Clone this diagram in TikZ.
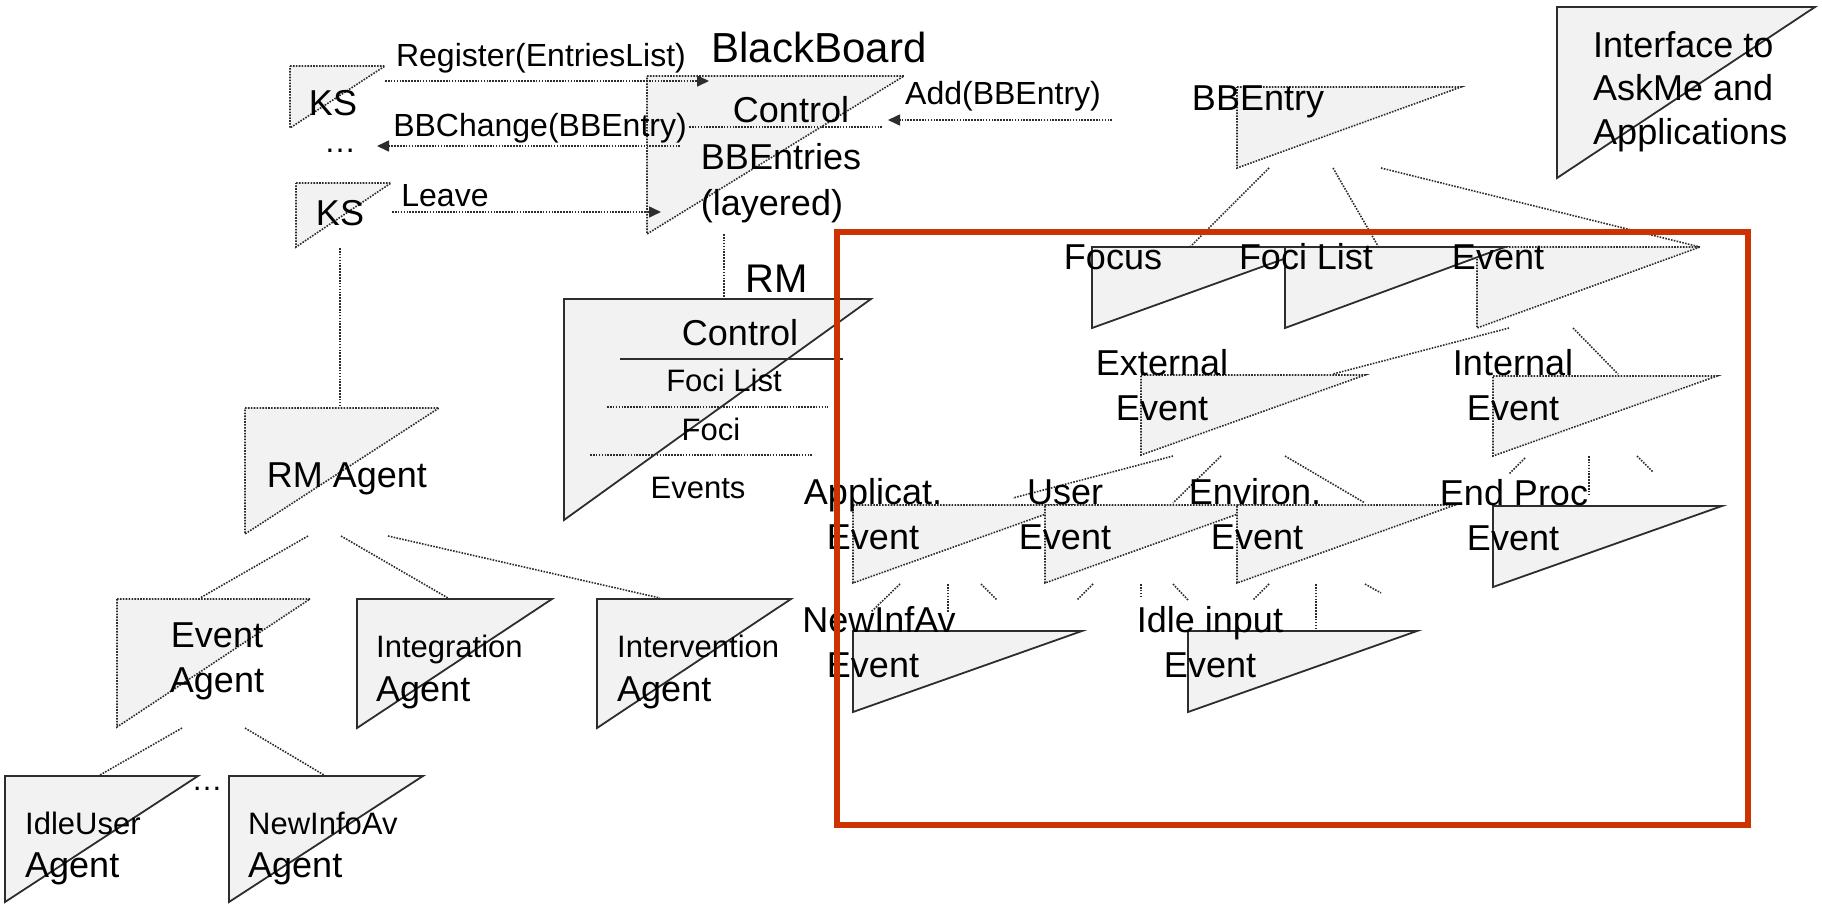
\documentclass[tikz,border=0pt]{standalone}
\usepackage{fontspec}
\setmainfont{Liberation Sans}
\usetikzlibrary{arrows.meta}
\definecolor{ln}{RGB}{45,45,45}
\definecolor{fl}{RGB}{242,242,242}
\definecolor{rd}{RGB}{204,51,0}
\newcommand\trishape[5]{\path[#1] (#2,#3) -- ++(#4,0) -- (#2,#3+#5) -- cycle;}
\begin{document}
\begin{tikzpicture}[x=1pt,y=-1pt,
  soltri/.style={draw=ln,line width=1.8pt,fill=fl},
  dottri/.style={draw=ln,line width=1.6pt,fill=fl,dash pattern=on 1.6pt off 1.3pt},
  dotln/.style={draw=ln,line width=1.6pt,dash pattern=on 1.6pt off 1.3pt},
  solln/.style={draw=ln,line width=1.8pt},
  arr/.style={dotln,-{Triangle[length=12pt,width=11pt]}},
  redbox/.style={draw=rd,line width=5.3pt},
  t42/.style={inner sep=0pt,font=\fontsize{42}{46}\selectfont,text height=30pt,text depth=0pt},
  t40/.style={inner sep=0pt,font=\fontsize{40}{44}\selectfont,text height=28.6pt,text depth=0pt},
  t36/.style={inner sep=0pt,font=\fontsize{36}{40}\selectfont,text height=25.8pt,text depth=0pt},
  t32/.style={inner sep=0pt,font=\fontsize{32}{36}\selectfont,text height=22.9pt,text depth=0pt},
  t31/.style={inner sep=0pt,font=\fontsize{31}{35}\selectfont,text height=22.2pt,text depth=0pt}
]
\useasboundingbox (0,0) rectangle (1822,903);

% ---------- shapes ----------
\trishape{dottri}{290}{66}{95}{62}
\trishape{dottri}{296}{183}{95}{64}
\trishape{dottri}{647}{76}{257}{158}
\trishape{soltri}{564}{299}{307}{221}
\trishape{dottri}{245}{408}{194}{126}
\trishape{dottri}{117}{599}{193}{128}
\trishape{soltri}{357}{599}{195}{129}
\trishape{soltri}{597}{599}{194}{129}
\trishape{soltri}{5}{776}{193}{126}
\trishape{soltri}{229}{776}{194}{126}
\trishape{dottri}{1237}{87}{224}{81}
\trishape{soltri}{1557}{7}{258}{171}
\trishape{soltri}{1092}{247}{225}{81}
\trishape{dottri}{1477}{247}{223}{81}
\trishape{soltri}{1285}{247}{220}{81}
\trishape{dottri}{1141}{375}{224}{80}
\trishape{dottri}{1493}{376}{224}{80}
\trishape{dottri}{853}{505}{218}{78}
\trishape{dottri}{1045}{505}{218}{78}
\trishape{dottri}{1237}{505}{218}{78}
\trishape{soltri}{1493}{506}{229}{81}
\trishape{soltri}{853}{631}{229}{81}
\trishape{soltri}{1188}{631}{229}{81}

% ---------- inner separators ----------
\draw[dotln] (689,127) -- (883,127);
\draw[solln] (620,359) -- (843,359);
\draw[dotln] (607,407) -- (828,407);
\draw[dotln] (590,455) -- (813,455);

% ---------- connector end points ----------
\coordinate (ks1r) at (385,81);   \coordinate (bbreg) at (709,81);
\coordinate (bbchg) at (680,146); \coordinate (dotsin) at (377,146);
\coordinate (ks2r) at (392,212);  \coordinate (bbleave) at (661,212);
\coordinate (addsrc) at (1112,120); \coordinate (bbadd) at (888,120);
\coordinate (bbbot) at (724,234); \coordinate (rmtop) at (724,299);
\coordinate (ks2b) at (340,248);  \coordinate (rmatop) at (340,407);
\coordinate (rma1) at (308,536);  \coordinate (eatop) at (200,598);
\coordinate (rma2) at (341,536);  \coordinate (intgtop) at (448,598);
\coordinate (rma3) at (388,536);  \coordinate (intvtop) at (660,598);
\coordinate (ea1) at (182,728);   \coordinate (idletop) at (100,775);
\coordinate (ea2) at (245,728);   \coordinate (newtop) at (324,775);
\coordinate (bbe1) at (1269,168); \coordinate (focustop) at (1190,247);
\coordinate (bbe2) at (1333,168); \coordinate (focilisttop) at (1378,246);
\coordinate (bbe3) at (1381,168); \coordinate (eventtop) at (1700,247);
\coordinate (ev1) at (1509,328);  \coordinate (exttop) at (1333,374);
\coordinate (ev2) at (1573,328);  \coordinate (inttop) at (1618,374);
\coordinate (ex1) at (1173,456);  \coordinate (apptop) at (1013,498);
\coordinate (ex2) at (1221,456);  \coordinate (usertop) at (1173,503);
\coordinate (ex3) at (1285,456);  \coordinate (envtop) at (1365,503);

\draw[arr] (ks1r) -- (bbreg);
\draw[arr] (bbchg) -- (dotsin);
\draw[arr] (ks2r) -- (bbleave);
\draw[arr] (addsrc) -- (bbadd);
\draw[dotln] (bbbot) -- (rmtop);
\draw[dotln] (ks2b) -- (rmatop);
\draw[dotln] (rma1) -- (eatop);
\draw[dotln] (rma2) -- (intgtop);
\draw[dotln] (rma3) -- (intvtop);
\draw[dotln] (ea1) -- (idletop);
\draw[dotln] (ea2) -- (newtop);
\draw[dotln] (bbe1) -- (focustop);
\draw[dotln] (bbe2) -- (focilisttop);
\draw[dotln] (bbe3) -- (eventtop);
\draw[dotln] (ev1) -- (exttop);
\draw[dotln] (ev2) -- (inttop);
\draw[dotln] (ex1) -- (apptop);
\draw[dotln] (ex2) -- (usertop);
\draw[dotln] (ex3) -- (envtop);
% stubs
\draw[dotln] (1525,458) -- (1509,474);
\draw[dotln] (1589,456) -- (1589,495);
\draw[dotln] (1637,456) -- (1653,472);
\draw[dotln] (900,584) -- (871,612);
\draw[dotln] (948,584) -- (948,612);
\draw[dotln] (981,584) -- (997,600);
\draw[dotln] (1093,584) -- (1077,600);
\draw[dotln] (1141,584) -- (1141,597);
\draw[dotln] (1173,584) -- (1188,600);
\draw[dotln] (1269,584) -- (1253,600);
\draw[dotln] (1316,584) -- (1316,630);
\draw[dotln] (1365,584) -- (1381,593);

% ---------- texts ----------
\node[t42] (bbt) at (819,47) {BlackBoard};
\node[t32] (regt) at (541,55) {Register(EntriesList)};
\node[t32] (addt) at (1003,93) {Add(BBEntry)};
\node[t32] (chgt) at (540,125) {BBChange(BBEntry)};
\node[t36] (ks1t) at (333,103) {KS};
\node[t32] (dots1) at (340,141) {\dots};
\node[t32] (leavet) at (445,195) {Leave};
\node[t36] (ks2t) at (340,213) {KS};
\node[t36] (bbctrl) at (791,110) {Control};
\node[t36] (bbent) at (781,157) {BBEntries};
\node[t36] (bblay) at (772,203) {(layered)};
\node[t40] (rmt) at (777,278) {RM};
\node[t36] (rmctrl) at (740,333) {Control};
\node[t31] (rmfl) at (724,380) {Foci List};
\node[t31] (rmfoci) at (711,429) {Foci};
\node[t31] (rmev) at (698,487) {Events};
\node[t36] (rmat) at (347,475) {RM Agent};
\node[t36] (eat1) at (217,635) {Event};
\node[t36] (eat2) at (217,680) {Agent};
\node[t31,anchor=west] (igt1) at (376,646) {Integration};
\node[t36,anchor=west] (igt2) at (376,689) {Agent};
\node[t31,anchor=west] (ivt1) at (617,646) {Intervention};
\node[t36,anchor=west] (ivt2) at (617,689) {Agent};
\node[t31,anchor=west] (iut1) at (25,823) {IdleUser};
\node[t36,anchor=west] (iut2) at (25,865) {Agent};
\node[t31,anchor=west] (nit1) at (248,823) {NewInfoAv};
\node[t36,anchor=west] (nit2) at (248,865) {Agent};
\node[t31] (dots2) at (207,779) {\dots};
\node[t36] (bbet) at (1258,98) {BBEntry};
\node[t36,anchor=west] (if1) at (1593,45) {Interface to};
\node[t36,anchor=west] (if2) at (1593,88) {AskMe and};
\node[t36,anchor=west] (if3) at (1593,132) {Applications};
\node[t36] (focust) at (1113,257) {Focus};
\node[t36] (focilt) at (1306,257) {Foci List};
\node[t36] (eventt) at (1498,257) {Event};
\node[t36] (ext1) at (1162,363) {External};
\node[t36] (ext2) at (1162,408) {Event};
\node[t36] (int1) at (1513,363) {Internal};
\node[t36] (int2) at (1513,408) {Event};
\node[t36] (app1) at (873,492) {Applicat.};
\node[t36] (app2) at (873,537) {Event};
\node[t36] (usr1) at (1065,492) {User};
\node[t36] (usr2) at (1065,537) {Event};
\node[t36] (env1) at (1255,492) {Environ.};
\node[t36] (env2) at (1257,537) {Event};
\node[t36] (end1) at (1514,493) {End Proc};
\node[t36] (end2) at (1513,538) {Event};
\node[t36] (nia1) at (879,620) {NewInfAv};
\node[t36] (nia2) at (873,665) {Event};
\node[t36] (idl1) at (1210,620) {Idle input};
\node[t36] (idl2) at (1210,665) {Event};

% ---------- red frame ----------
\draw[redbox] (837,232) rectangle (1748,825);
\end{tikzpicture}
\end{document}
